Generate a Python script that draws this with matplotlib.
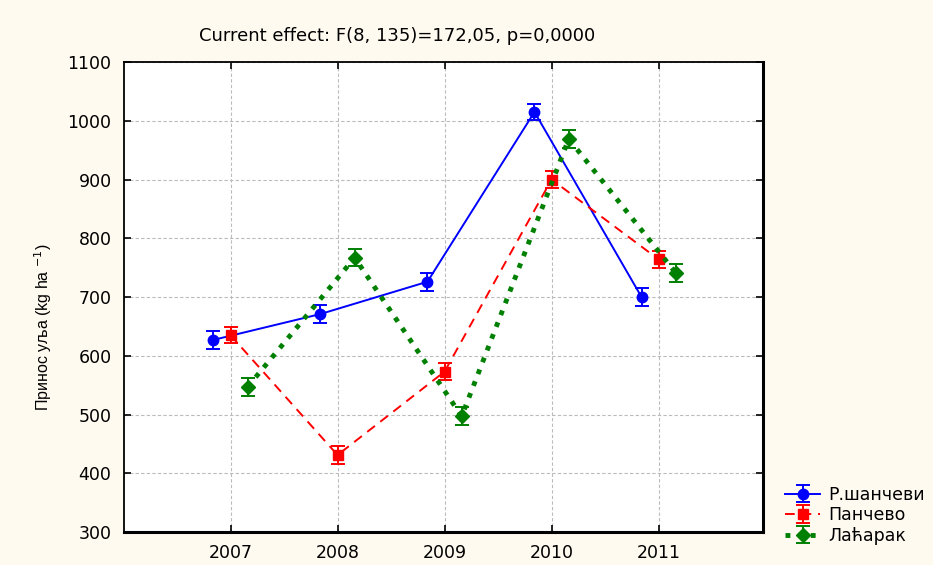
import matplotlib
matplotlib.use("Agg")
import matplotlib.pyplot as plt
import numpy as np

years = ["2007", "2008", "2009", "2010", "2011"]
series_names = ["Р.шанчеви", "Панчево", "Лаћарак"]
rsancevi = [627, 671, 726, 1015, 700]
pancevo = [635, 431, 573, 900, 764]
lacarak = [547, 767, 497, 969, 741]
rsancevi_err = [15, 15, 15, 14, 15]
pancevo_err = [14, 15, 14, 14, 15]
lacarak_err = [15, 15, 15, 15, 15]
yticks = [300, 400, 500, 600, 700, 800, 900, 1000, 1100]

plt.rcParams['font.family'] = ['DejaVu Sans']

fig = plt.figure(figsize=(9.33, 5.65), dpi=100, facecolor='#FFFAF0')
ax = fig.add_axes([124/933, 1-532/565, (763-124)/933, (532-62)/565])
ax.set_facecolor('white')

x = np.arange(len(years))
offs = [-0.16, 0.0, 0.16]
styles = [
    dict(color='#0000FF', marker='o', ms=7.5, ls='-', lw=1.4),
    dict(color='#FF0000', marker='s', ms=7.5, ls=(0, (5, 3.5)), lw=1.4),
    dict(color='#008000', marker='D', ms=7.5, ls=(0, (1, 1.6)), lw=3.5),
]
data = [rsancevi, pancevo, lacarak]
errs = [rsancevi_err, pancevo_err, lacarak_err]
handles = []
for vals, err, off, st, name in zip(data, errs, offs, styles, series_names):
    h = ax.errorbar(x + off, vals, yerr=err, capsize=5, capthick=1.4,
                    elinewidth=1.4, label=name, zorder=3, **st)
    handles.append(h)

ax.set_xlim(-0.995, 4.975)
ax.set_ylim(300, 1100)
ax.set_xticks(x)
ax.set_xticklabels(years)
ax.set_yticks(yticks)
ax.tick_params(direction='in', length=5, width=1.2, top=True, right=True,
               labelsize=12.5, pad=9)
ax.grid(True, color='#BBBBBB', ls=(0, (3, 2)), lw=0.8, zorder=0)
ax.set_axisbelow(True)
for s in ['left', 'top']:
    ax.spines[s].set_linewidth(1.3)
for s in ['right', 'bottom']:
    ax.spines[s].set_linewidth(2.2)

fig.text(397/933, 1-36/565, "Current effect: F(8, 135)=172,05, p=0,0000",
         ha='center', va='center', fontsize=13)
fig.text(43/933, 1-327/565, "Принос уља (kg ha $^{-1}$)", rotation=90,
         ha='center', va='center', fontsize=11.5,
         family=['Liberation Sans Narrow', 'Liberation Sans', 'DejaVu Sans'])

leg = fig.legend(handles=handles, labels=series_names, loc='lower left',
                 bbox_to_anchor=(773/933, 1-557/565), frameon=False,
                 fontsize=12.5, handlelength=2.0, labelspacing=0.15,
                 handletextpad=0.5, borderpad=0.2)

fig.savefig("out.png", dpi=100, facecolor=fig.get_facecolor())
